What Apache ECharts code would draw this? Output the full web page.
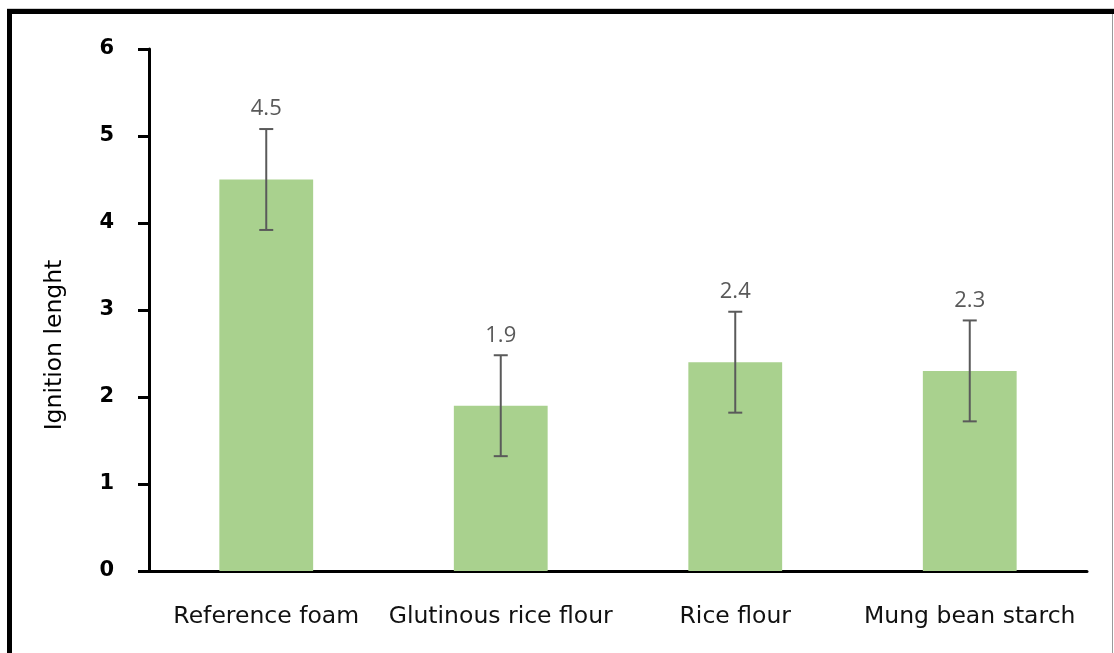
<!DOCTYPE html>
<html>
<head>
<meta charset="utf-8">
<script src="https://cdn.jsdelivr.net/npm/echarts@6/dist/echarts.min.js"></script>
<style>
html,body{margin:0;padding:0;background:#fff;}
#c{width:1114px;height:653px;}
</style>
</head>
<body>
<div id="c"></div>
<script>
var categories = ['Reference foam', 'Glutinous rice flour', 'Rice flour', 'Mung bean starch'];
var values = [4.5, 1.9, 2.4, 2.3];
var errors = [0.58, 0.58, 0.58, 0.58];
var yTicks = [0, 1, 2, 3, 4, 5, 6];

var errData = values.map(function (v, i) { return [i, v - errors[i], v + errors[i], v]; });

var chart = echarts.init(document.getElementById('c'), null, { renderer: 'canvas' });
var FONT = 'DejaVu Sans';
chart.setOption({
  animation: false,
  backgroundColor: '#ffffff',
  grid: { left: 149, right: 27, top: 49, bottom: 82 },
  xAxis: {
    type: 'category',
    data: categories,
    axisLine: { show: true, lineStyle: { color: '#000', width: 3 } },
    axisTick: { show: false },
    axisLabel: { color: '#111', fontSize: 23.5, fontFamily: FONT, margin: 34, interval: 0, hideOverlap: false }
  },
  yAxis: {
    type: 'value',
    min: yTicks[0],
    max: yTicks[yTicks.length - 1],
    interval: 1,
    name: 'Ignition lenght',
    nameLocation: 'middle',
    nameGap: 82,
    nameRotate: 90,
    nameTextStyle: { color: '#000', fontSize: 23.5, fontFamily: FONT, padding: [0, 0, 0, -70] },
    axisLine: { show: true, lineStyle: { color: '#000', width: 3 } },
    axisTick: { show: true, inside: false, length: 11, lineStyle: { color: '#000', width: 3 } },
    splitLine: { show: false },
    axisLabel: { color: '#000', fontSize: 21, fontWeight: 'bold', fontFamily: FONT, margin: 35 }
  },
  series: [
    {
      type: 'bar',
      data: values,
      barWidth: '40%',
      itemStyle: { color: '#A9D18E' }
    },
    {
      type: 'custom',
      data: errData,
      z: 10,
      renderItem: function (params, api) {
        var i = api.value(0);
        var lo = api.coord([i, api.value(1)]);
        var hi = api.coord([i, api.value(2)]);
        var half = 7;
        var style = { stroke: '#5a5a5a', lineWidth: 2 };
        return {
          type: 'group',
          children: [
            { type: 'line', shape: { x1: hi[0], y1: hi[1], x2: lo[0], y2: lo[1] }, style: style },
            { type: 'line', shape: { x1: hi[0] - half, y1: hi[1], x2: hi[0] + half, y2: hi[1] }, style: style },
            { type: 'line', shape: { x1: lo[0] - half, y1: lo[1], x2: lo[0] + half, y2: lo[1] }, style: style },
            { type: 'text', x: hi[0], y: hi[1] - 9,
              style: { text: String(api.value(3)), fill: '#595959', fontSize: 22, fontFamily: 'Open Sans',
                       align: 'center', verticalAlign: 'bottom' } }
          ]
        };
      }
    }
  ],
  graphic: [
    { type: 'rect', shape: { x: 7, y: 9, width: 1107, height: 5 }, style: { fill: '#000' }, z: 100 },
    { type: 'rect', shape: { x: 7, y: 9, width: 5, height: 644 }, style: { fill: '#000' }, z: 100 },
    { type: 'rect', shape: { x: 7, y: 8, width: 1107, height: 1 }, style: { fill: '#cfcfcf' }, z: 100 },
    { type: 'rect', shape: { x: 1112, y: 14, width: 1, height: 639 }, style: { fill: '#9a9a9a' }, z: 100 }
  ]
});
</script>
</body>
</html>
